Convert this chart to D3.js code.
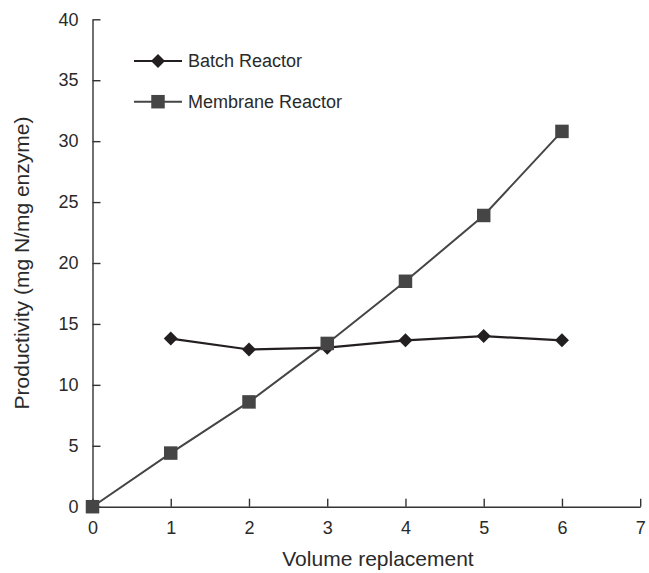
<!DOCTYPE html>
<html>
<head>
<meta charset="utf-8">
<script src="https://cdn.jsdelivr.net/npm/d3@7"></script>
<style>
  body { margin: 0; background: #fff; }
  text { font-family: "Liberation Sans", Arial, sans-serif; fill: #2a2a2a; }
</style>
</head>
<body>
<svg id="chart" width="649" height="573"></svg>
<script>
// data
const batchX = [1, 2, 3, 4, 5, 6];
const batchY = [13.8, 12.9, 13.05, 13.65, 14.0, 13.65];
const membraneX = [0, 1, 2, 3, 4, 5, 6];
const membraneY = [0, 4.4, 8.6, 13.4, 18.5, 23.9, 30.8];
const xTicks = [0, 1, 2, 3, 4, 5, 6, 7];
const yTicks = [0, 5, 10, 15, 20, 25, 30, 35, 40];
const seriesNames = ['Batch Reactor', 'Membrane Reactor'];

const margin = { left: 92.5, top: 19.3, right: 8.8, bottom: 66.3 };
const W = 649, H = 573;

const svg = d3.select('#chart');

const x = d3.scaleLinear().domain([0, 7]).range([margin.left, W - margin.right]);
const y = d3.scaleLinear().domain([0, 40]).range([H - margin.bottom, margin.top]);

// axes, ticks pointing inward
const xAxis = svg.append('g')
  .attr('transform', `translate(0,${y(0)})`)
  .call(d3.axisBottom(x).tickValues(xTicks).tickFormat(d3.format('d'))
    .tickSize(-8).tickPadding(15).tickSizeOuter(0));
xAxis.selectAll('text').attr('font-size', 18).attr('dy', '0.71em');

const yAxis = svg.append('g')
  .attr('transform', `translate(${x(0)},0)`)
  .call(d3.axisLeft(y).tickValues(yTicks).tickFormat(d3.format('d'))
    .tickSize(-8).tickPadding(14).tickSizeOuter(0));
yAxis.selectAll('text').attr('font-size', 18);

svg.selectAll('.domain, .tick line').attr('stroke', '#333').attr('stroke-width', 1.4);
svg.selectAll('.tick text').style('fill', '#2a2a2a').attr('font-family', '"Liberation Sans", Arial, sans-serif');

// axis titles
svg.append('text')
  .attr('x', 378).attr('y', 566)
  .attr('text-anchor', 'middle')
  .attr('font-size', 21)
  .text('Volume replacement');

svg.append('text')
  .attr('transform', `translate(29,${(y(0) + y(40)) / 2}) rotate(-90)`)
  .attr('text-anchor', 'middle')
  .attr('font-size', 21)
  .text('Productivity (mg N/mg enzyme)');

const line = d3.line().x(d => x(d[0])).y(d => y(d[1]));

const batch = batchX.map((v, i) => [v, batchY[i]]);
const membrane = membraneX.map((v, i) => [v, membraneY[i]]);

svg.append('path').datum(membrane)
  .attr('d', line).attr('fill', 'none')
  .attr('stroke', '#454545').attr('stroke-width', 2);

svg.append('path').datum(batch)
  .attr('d', line).attr('fill', 'none')
  .attr('stroke', '#231f20').attr('stroke-width', 2.2);

const diamond = d3.symbol().type(d3.symbolSquare).size(98);
const square = d3.symbol().type(d3.symbolSquare).size(182);

svg.selectAll('.bpt').data(batch).enter().append('path')
  .attr('class', 'bpt')
  .attr('d', diamond)
  .attr('transform', d => `translate(${x(d[0])},${y(d[1])}) rotate(45)`)
  .attr('fill', '#231f20');

svg.selectAll('.mpt').data(membrane).enter().append('path')
  .attr('class', 'mpt')
  .attr('d', square)
  .attr('transform', d => `translate(${x(d[0])},${y(d[1])})`)
  .attr('fill', '#454545');

// legend
const legend = svg.append('g');
const legY = [61, 101.7];
seriesNames.forEach((name, i) => {
  const g = legend.append('g').attr('transform', `translate(0,${legY[i]})`);
  g.append('line').attr('x1', 134).attr('x2', 182)
    .attr('stroke', i === 0 ? '#231f20' : '#454545')
    .attr('stroke-width', i === 0 ? 2.2 : 2);
  g.append('path')
    .attr('d', i === 0 ? diamond : square)
    .attr('transform', `translate(158,0)${i === 0 ? ' rotate(45)' : ''}`)
    .attr('fill', i === 0 ? '#231f20' : '#454545');
  g.append('text').attr('x', 188).attr('dy', '0.35em')
    .attr('font-size', 18).text(name);
});
</script>
</body>
</html>
